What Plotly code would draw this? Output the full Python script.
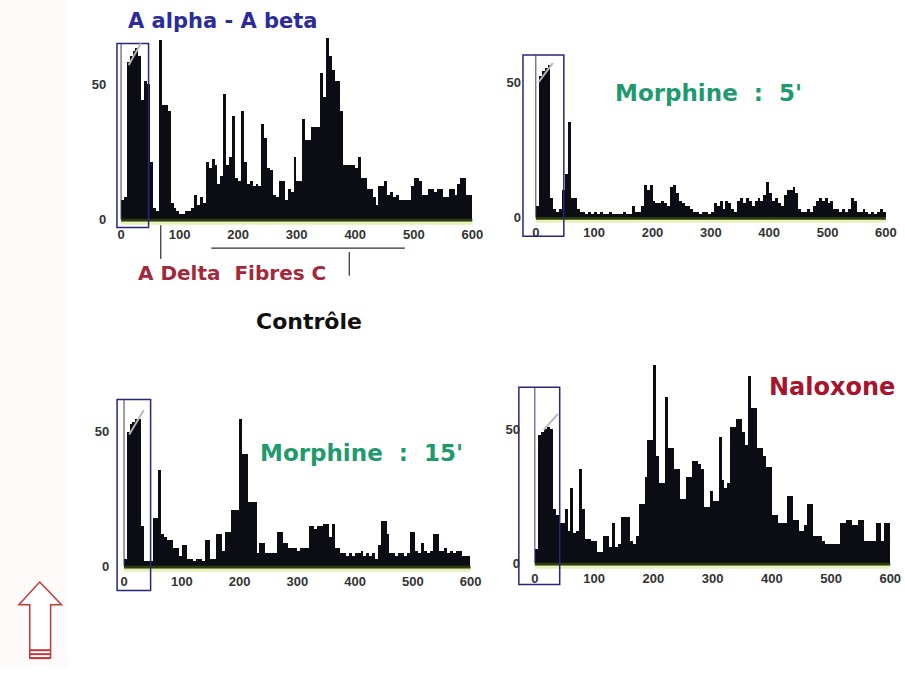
import plotly.graph_objects as go

W, H = 905, 675

# ---------------- data ----------------
BIN_STARTS = list(range(0, 600, 5))
BIN_WIDTH = 5
X_TICKS = [0, 100, 200, 300, 400, 500, 600]
Y_TICKS = [0, 50]

CONTROLE = [
    7, 8, 58, 60, 62, 63, 60, 44, 51, 50,
    21, 4, 3, 66, 42, 42, 40, 6, 4, 3,
    2, 2, 3, 3, 4, 9, 5, 8, 6, 21,
    19, 22, 20, 13, 16, 46, 20, 23, 38, 15,
    14, 40, 21, 13, 14, 12, 13, 12, 35, 30,
    19, 18, 9, 8, 14, 14, 7, 11, 10, 23,
    14, 14, 37, 29, 29, 34, 34, 34, 54, 45,
    67, 60, 55, 51, 51, 40, 20, 20, 20, 20,
    19, 23, 15, 15, 11, 11, 8, 5, 12, 12,
    14, 9, 10, 8, 9, 7, 7, 7, 7, 12,
    15, 15, 14, 9, 9, 11, 11, 10, 11, 11,
    8, 8, 11, 11, 9, 13, 15, 15, 9, 9,
]

MORPHINE_5 = [
    4, 52, 54, 55, 56, 7, 3, 2, 3, 10,
    16, 35, 7, 7, 3, 2, 2, 1, 2, 1,
    2, 1, 2, 1, 1, 2, 1, 1, 1, 1,
    2, 1, 1, 4, 2, 2, 4, 12, 10, 12,
    6, 5, 5, 6, 5, 4, 11, 12, 9, 6,
    5, 4, 4, 3, 2, 2, 1, 2, 2, 1,
    2, 5, 4, 6, 3, 6, 5, 3, 2, 6,
    7, 5, 7, 6, 4, 6, 7, 6, 8, 13,
    9, 6, 7, 5, 4, 8, 10, 10, 11, 9,
    3, 2, 2, 3, 2, 4, 6, 7, 6, 7,
    5, 6, 3, 3, 2, 3, 2, 3, 7, 6,
    2, 2, 3, 2, 1, 2, 1, 2, 3, 2,
]

MORPHINE_15 = [
    3, 50, 53, 54, 55, 55, 15, 2, 2, 2,
    18, 18, 36, 12, 11, 10, 10, 7, 7, 4,
    8, 8, 3, 3, 2, 3, 3, 2, 10, 10,
    3, 3, 12, 12, 6, 13, 13, 21, 21, 21,
    55, 42, 42, 24, 24, 24, 5, 9, 9, 5,
    5, 5, 5, 13, 13, 9, 9, 7, 7, 7,
    6, 7, 7, 7, 15, 15, 14, 15, 15, 16,
    16, 11, 16, 7, 7, 5, 5, 4, 5, 4,
    5, 5, 6, 4, 5, 4, 5, 3, 8, 17,
    17, 12, 5, 5, 4, 5, 5, 4, 5, 13,
    13, 6, 5, 9, 6, 5, 6, 12, 12, 6,
    6, 7, 5, 6, 5, 6, 6, 4, 4, 4,
]

NALOXONE = [
    5, 48, 49, 50, 51, 50, 20, 18, 15, 15,
    20, 12, 28, 11, 12, 35, 20, 9, 9, 8,
    8, 4, 4, 10, 10, 6, 15, 6, 7, 17,
    17, 17, 8, 7, 10, 22, 22, 32, 46, 46,
    74, 40, 30, 30, 62, 43, 43, 35, 35, 24,
    24, 32, 32, 38, 38, 37, 35, 21, 21, 27,
    23, 23, 47, 31, 28, 30, 51, 51, 54, 54,
    49, 44, 70, 58, 58, 43, 43, 40, 36, 36,
    18, 18, 15, 15, 15, 25, 25, 16, 16, 12,
    12, 14, 22, 22, 10, 10, 10, 8, 7, 7,
    7, 7, 7, 15, 15, 16, 16, 14, 14, 16,
    16, 8, 8, 8, 8, 15, 15, 8, 15, 15,
]

SERIES = [CONTROLE, MORPHINE_5, MORPHINE_15, NALOXONE]

# ---------------- geometry / style ----------------
# pixel position of value 0, pixels per unit for each panel
GEOM = [
    dict(x0=122, xs=0.590, y0=222, ys=2.74, ymax=72,
         rect=(-7, 47, -3, 65), streak=(13, 57, 34, 65)),
    dict(x0=540, xs=0.588, y0=220, ys=2.74, ymax=65,
         rect=(-22, 48, -7, 60), streak=(5, 50, 29, 57)),
    dict(x0=125, xs=0.582, y0=573, ys=2.72, ymax=65,
         rect=(-12, 46, -9, 62), streak=(9, 49, 34, 58)),
    dict(x0=539, xs=0.597, y0=570, ys=2.70, ymax=76,
         rect=(-27, 42, -8, 66), streak=(15, 50, 39, 56)),
]
X_MIN, X_MAX = -10, 606

BAR_COLOR = "#0c0c14"
RECT_COLOR = "#27277a"
TICK_FONT = dict(family="Liberation Sans", size=13, color="#333333", weight="bold")


def px(g, v):
    return g["x0"] + v * g["xs"]


def py(g, v):
    return g["y0"] - v * g["ys"]


def P(xp, yp):
    return xp / W, 1 - yp / H


fig = go.Figure()
shapes = []
layout_axes = {}

for i, (g, vals) in enumerate(zip(GEOM, SERIES), start=1):
    xa = "x" if i == 1 else f"x{i}"
    ya = "y" if i == 1 else f"y{i}"
    fig.add_trace(go.Bar(
        x=[b + BIN_WIDTH / 2 for b in BIN_STARTS], y=vals, width=BIN_WIDTH,
        marker=dict(color=BAR_COLOR, line=dict(width=0)),
        xaxis=xa, yaxis=ya, hoverinfo="x+y",
    ))
    xkey = "xaxis" if i == 1 else f"xaxis{i}"
    ykey = "yaxis" if i == 1 else f"yaxis{i}"
    layout_axes[xkey] = dict(
        domain=[px(g, X_MIN) / W, px(g, X_MAX) / W], range=[X_MIN, X_MAX],
        tickvals=X_TICKS, showgrid=False, zeroline=False, showline=False,
        ticks="", tickfont=TICK_FONT, ticklabelstandoff=6, anchor=ya,
        fixedrange=True,
    )
    layout_axes[ykey] = dict(
        domain=[1 - py(g, 0) / H, 1 - py(g, g["ymax"]) / H], range=[0, g["ymax"]],
        tickvals=Y_TICKS, showgrid=False, zeroline=False, showline=False,
        ticks="", tickfont=TICK_FONT, anchor=xa, fixedrange=True,
        ticklabelstandoff=8,
    )
    # baseline band
    bx0, by = P(px(g, 0), py(g, 0) + 1)
    bx1, _ = P(px(g, 600), 0)
    shapes.append(dict(type="line", xref="paper", yref="paper", x0=bx0, x1=bx1,
                       y0=by, y1=by, line=dict(color="#2b3d0c", width=3)))
    _, by2 = P(0, py(g, 0) + 4)
    shapes.append(dict(type="line", xref="paper", yref="paper", x0=bx0, x1=bx1,
                       y0=by2, y1=by2, line=dict(color="#e8f1b8", width=3)))
    # bounding rectangle around the first peak
    rx0, rx1, ry0, ry1 = g["rect"]
    a0 = P(px(g, rx0), py(g, ry0))
    a1 = P(px(g, rx1), py(g, ry1))
    shapes.append(dict(type="rect", xref="paper", yref="paper", x0=a0[0], x1=a1[0],
                       y0=a0[1], y1=a1[1], line=dict(color=RECT_COLOR, width=1.5)))
    # inner axis line
    l0 = P(px(g, 0), py(g, 0))
    l1 = P(px(g, 0), py(g, ry1))
    shapes.append(dict(type="line", xref="paper", yref="paper", x0=l0[0], x1=l1[0],
                       y0=l0[1], y1=l1[1], line=dict(color="#3a3a6a", width=1)))
    # grey streak on top of the first peak
    sx0, sy0, sx1, sy1 = g["streak"]
    s0 = P(px(g, sx0), py(g, sy0))
    s1 = P(px(g, sx1), py(g, sy1))
    shapes.append(dict(type="line", xref="paper", yref="paper", x0=s0[0], x1=s1[0],
                       y0=s0[1], y1=s1[1], line=dict(color="#b8b8b8", width=2)))

# fibre annotation lines under the control panel
for (xa_, ya_, xb_, yb_) in [(162, 228, 162, 262), (213, 251, 408, 251), (352, 255, 352, 279)]:
    p0 = P(xa_, ya_)
    p1 = P(xb_, yb_)
    shapes.append(dict(type="line", xref="paper", yref="paper", x0=p0[0], x1=p1[0],
                       y0=p0[1], y1=p1[1], line=dict(color="#3a2a2a", width=1.2)))

# faint left strip
shapes.insert(0, dict(type="rect", xref="paper", yref="paper", x0=0, x1=68 / W,
                      y0=0, y1=1, line=dict(width=0), fillcolor="#fefafa", layer="below"))

# red outlined arrow (bottom left)
arrow_pts = [(40, 589), (62, 612), (51, 612), (51, 666), (30, 666), (30, 612), (19, 612)]
path = "M " + " L ".join(f"{P(a, b)[0]:.5f},{P(a, b)[1]:.5f}" for a, b in arrow_pts) + " Z"
shapes.append(dict(type="path", xref="paper", yref="paper", path=path,
                   fillcolor="white", line=dict(color="#c23a3a", width=1.5)))
for yy in (658, 662, 666):
    p0 = P(30, yy)
    p1 = P(51, yy)
    shapes.append(dict(type="line", xref="paper", yref="paper", x0=p0[0], x1=p1[0],
                       y0=p0[1], y1=p1[1], line=dict(color="#c23a3a", width=2)))

TEXTS = [
    ("A alpha - A beta", 224, 21, 21, "#2b2b9c"),
    ("A Delta  Fibres C", 234, 276, 20, "#a3283a"),
    ("Contrôle", 311, 325, 22, "#111111"),
    ("Morphine  :  5'", 714, 94, 23, "#1e9a6e"),
    ("Morphine  :  15'", 364, 458, 23, "#1e9a6e"),
    ("Naloxone", 838, 392, 24, "#a8142c"),
]
annotations = []
for txt, xp_, yp_, size, color in TEXTS:
    ax_, ay_ = P(xp_, yp_)
    annotations.append(dict(text=txt, x=ax_, y=ay_, xref="paper", yref="paper",
                            showarrow=False, xanchor="center", yanchor="middle",
                            font=dict(family="DejaVu Sans", size=size, color=color,
                                      weight="bold")))

fig.update_layout(
    width=W, height=H, margin=dict(l=0, r=0, t=0, b=0),
    paper_bgcolor="white", plot_bgcolor="rgba(0,0,0,0)",
    showlegend=False, bargap=0, shapes=shapes, annotations=annotations,
    **layout_axes,
)

fig.write_html(
    "out.html",
    config={"displayModeBar": False},
    post_script="document.body.style.margin='0px';document.body.style.overflow='hidden';",
)
